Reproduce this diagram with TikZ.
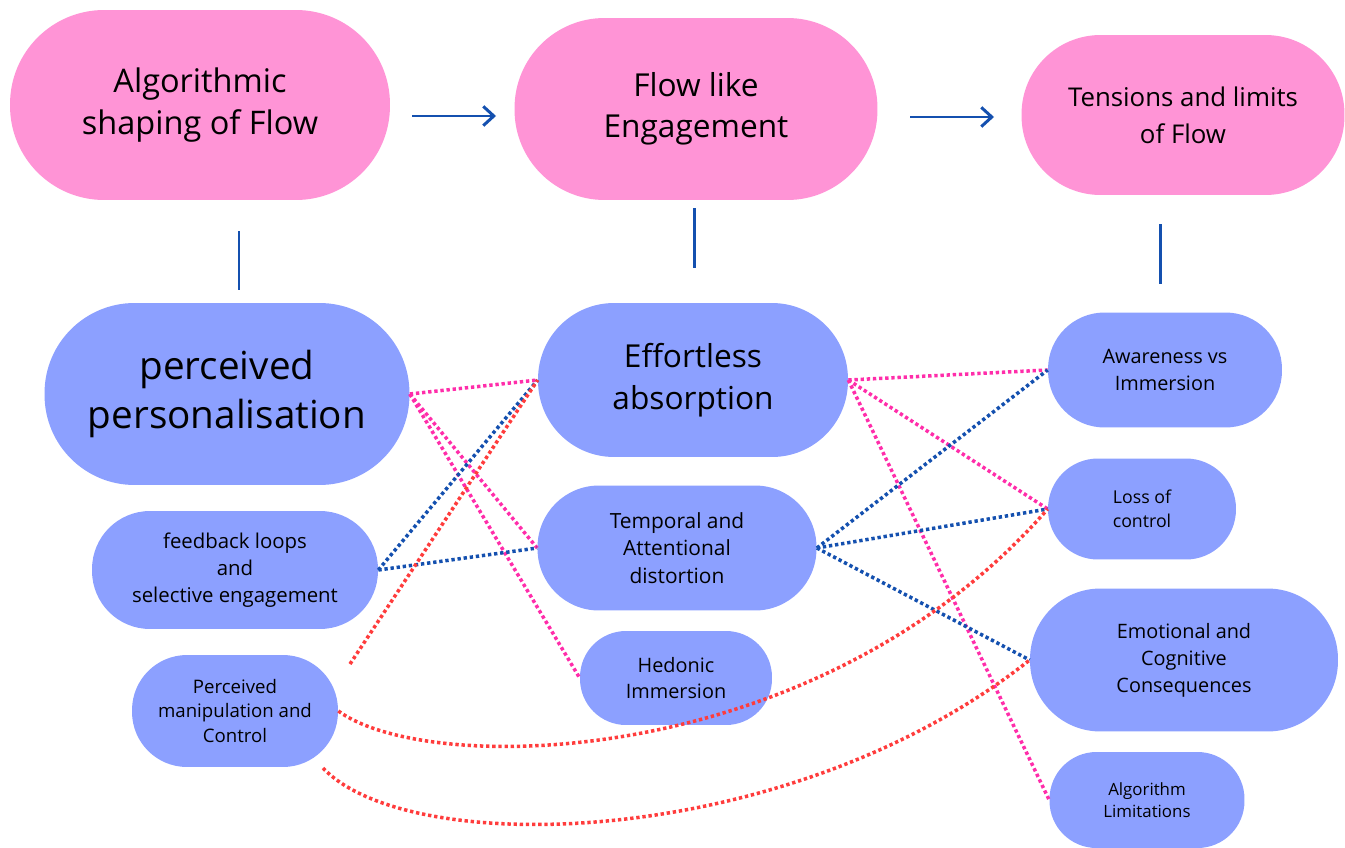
\documentclass[tikz,border=0pt]{standalone}
\usepackage{fontspec}
\setmainfont{Open Sans}
\usetikzlibrary{arrows.meta}
\definecolor{pinkfill}{RGB}{255,148,214}
\definecolor{bluefill}{RGB}{140,160,255}
\definecolor{lineblue}{RGB}{20,80,175}
\definecolor{dotpink}{RGB}{255,45,170}
\definecolor{dotred}{RGB}{255,60,60}
\newcommand{\fs}[2]{\fontsize{#1}{#2}\selectfont}
\tikzset{
  box/.style={inner sep=0pt, align=center, text=black},
  pinkbox/.style={box, fill=pinkfill},
  bluebox/.style={box, fill=bluefill},
  solidblue/.style={draw=lineblue, line width=1.7pt},
  dotline/.style={line width=2pt, dash pattern=on 1.9pt off 1.6pt},
  pinkdot/.style={dotline, draw=dotpink},
  bluedot/.style={dotline, draw=lineblue},
  reddot/.style={dotline, draw=dotred},
}
\begin{document}
\begin{tikzpicture}[x=0.02cm, y=-0.02cm]
\useasboundingbox (0,0) rectangle (1345,848);
% top pink nodes
\node[pinkbox, minimum width=7.6cm, minimum height=3.8cm, rounded corners=1.88cm, font={\fs{18.5}{24.4}}] (A1) at (200,105) {Algorithmic\\shaping of Flow};
\node[pinkbox, minimum width=7.26cm, minimum height=3.64cm, rounded corners=1.8cm, font={\fs{18}{23.5}}] (A2) at (696,109) {Flow like\\Engagement};
\node[pinkbox, minimum width=6.46cm, minimum height=3.2cm, rounded corners=1.58cm, font={\fs{14.7}{21}}] (A3) at (1183,115) {Tensions and limits\\of Flow};
% arrows
\coordinate (a1s) at (412,116); \coordinate (a1e) at (496,116);
\coordinate (a2s) at (910,117); \coordinate (a2e) at (994,117);
\draw[solidblue, -{Straight Barb[length=6pt,width=11pt]}] (a1s) -- (a1e);
\draw[solidblue, -{Straight Barb[length=6pt,width=11pt]}] (a2s) -- (a2e);
% vertical lines
\coordinate (v1s) at (239,231); \coordinate (v1e) at (239,290);
\coordinate (v2s) at (694,208); \coordinate (v2e) at (694,268);
\coordinate (v3s) at (1160,224); \coordinate (v3e) at (1160,284);
\draw[solidblue] (v1s) -- (v1e);
\draw[solidblue] (v2s) -- (v2e);
\draw[solidblue] (v3s) -- (v3e);
% blue nodes
\node[bluebox, minimum width=7.3cm, minimum height=3.64cm, rounded corners=1.8cm, font={\fs{22}{28.2}}] (B1) at (227,394) {perceived\\personalisation};
\node[bluebox, minimum width=5.72cm, minimum height=2.36cm, rounded corners=1.16cm, font={\fs{11.6}{15.3}}] (B2) at (235,570) {feedback loops\\and\\selective engagement};
\node[bluebox, minimum width=4.12cm, minimum height=2.24cm, rounded corners=1.1cm, font={\fs{10.6}{14.2}}] (B3) at (235,711) {Perceived\\manipulation and\\Control};
\node[bluebox, minimum width=6.2cm, minimum height=3.08cm, rounded corners=1.52cm, font={\fs{18}{23.8}}] (C1) at (693,380) {Effortless\\absorption};
\node[bluebox, minimum width=5.58cm, minimum height=2.5cm, rounded corners=1.23cm, font={\fs{11.9}{15.8}}] (C2) at (677,548) {Temporal and\\Attentional\\distortion};
\node[bluebox, minimum width=3.84cm, minimum height=1.88cm, rounded corners=0.92cm, font={\fs{11.3}{14.7}}] (C3) at (676,678) {Hedonic\\Immersion};
\node[bluebox, minimum width=4.68cm, minimum height=2.3cm, rounded corners=1.13cm, font={\fs{11.3}{15.3}}] (D1) at (1165,370) {Awareness vs\\Immersion};
\node[bluebox, minimum width=3.76cm, minimum height=2.02cm, rounded corners=1cm, font={\fs{10.1}{13.6}}] (D2) at (1142,509) {Loss of\\control};
\node[bluebox, minimum width=6.16cm, minimum height=2.86cm, rounded corners=1.41cm, font={\fs{11.3}{15.3}}] (D3) at (1184,660) {Emotional and\\Cognitive\\Consequences};
\node[bluebox, minimum width=3.9cm, minimum height=1.92cm, rounded corners=0.94cm, font={\fs{9.6}{12.5}}] (D4) at (1147,800) {Algorithm\\Limitations};
% free-end coordinates
\coordinate (r0) at (350,664);
\coordinate (r2) at (323,768);
% pink dotted
\draw[pinkdot] (B1.east) -- (C1.west);
\draw[pinkdot] (B1.east) -- (C2.west);
\draw[pinkdot] (B1.east) -- (C3.west);
\draw[pinkdot] (C1.east) -- (D1.west);
\draw[pinkdot] (C1.east) -- (D2.west);
\draw[pinkdot] (C1.east) -- (D4.west);
% blue dotted
\draw[bluedot] (B2.east) -- (C1.west);
\draw[bluedot] (B2.east) -- (C2.west);
\draw[bluedot] (C2.east) -- (D1.west);
\draw[bluedot] (C2.east) -- (D2.west);
\draw[bluedot] (C2.east) -- (D3.west);
% red dotted
\draw[reddot] (r0) -- (C1.west);
\draw[reddot] (B3.east) .. controls (430,778) and (820,770) .. (D2.west);
\draw[reddot] (r2) .. controls (410,860) and (790,850) .. (D3.west);
\end{tikzpicture}
\end{document}
